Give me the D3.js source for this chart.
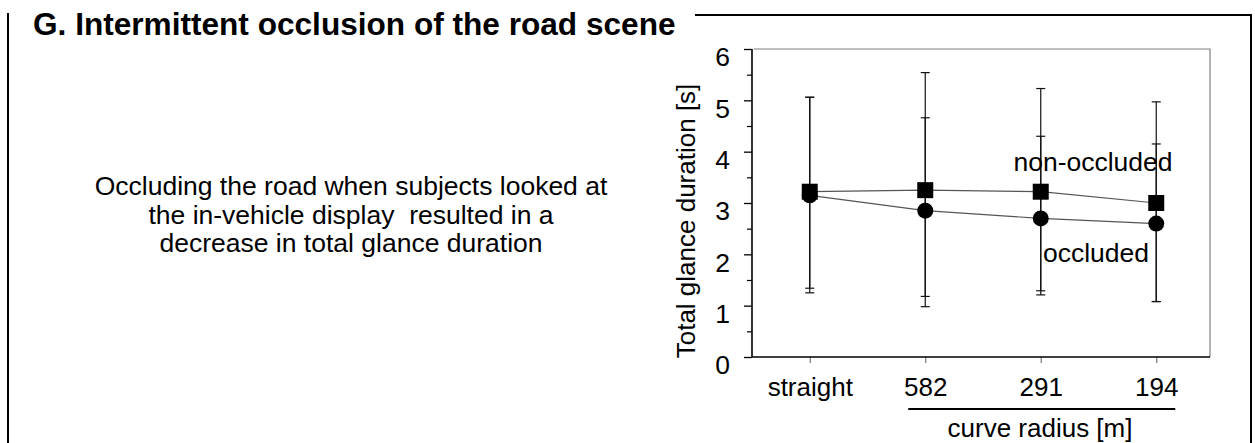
<!DOCTYPE html>
<html lang="en">
<head>
<meta charset="UTF-8">
<title>Intermittent occlusion of the road scene</title>
<script src="https://d3js.org/d3.v7.min.js"></script>
<style>
  body { margin: 0; background: #ffffff; }
  svg { display: block; font-family: "Liberation Sans", Arial, Helvetica, sans-serif; }
</style>
</head>
<body>
<div id="chart"></div>
<script>
// x categories (curve radius in m, plus the straight road)
const categories = ['straight', '582', '291', '194'];
// mean total glance duration [s]
const nonOccludedMean = [3.22, 3.25, 3.22, 3.00];
const occludedMean = [3.15, 2.85, 2.70, 2.60];
// error bar ends [s]
const nonOccludedHigh = [5.06, 5.54, 5.23, 4.97];
const nonOccludedLow = [1.34, 0.98, 1.21, 1.08];
const occludedHigh = [5.06, 4.66, 4.30, 4.15];
const occludedLow = [1.25, 1.18, 1.29, 1.08];
const yTicks = [0, 1, 2, 3, 4, 5, 6];
const yMinorTicks = [0.5, 1.5, 2.5, 3.5, 4.5, 5.5];
const noteLines = [
    'Occluding the road when subjects looked at',
    'the in-vehicle display  resulted in a',
    'decrease in total glance duration'
];

const W = 1255, H = 443;
const plot = {left: 752, right: 1210, top: 49, bottom: 357};

const svg = d3.select('#chart').append('svg')
    .attr('width', W)
    .attr('height', H);

// outer panel frame, open behind the title
svg.append('path')
    .attr('d', `M8,13 V${H} M695,15 H1251 V${H}`)
    .attr('fill', 'none')
    .attr('stroke', '#000')
    .attr('stroke-width', 2);

svg.append('text')
    .attr('x', 33)
    .attr('y', 35)
    .attr('font-size', 31.6)
    .attr('font-weight', 'bold')
    .text('G. Intermittent occlusion of the road scene');

svg.append('g')
    .selectAll('text')
    .data(noteLines)
    .enter().append('text')
    .attr('x', 351)
    .attr('y', (d, i) => 195 + i * 28.5)
    .attr('text-anchor', 'middle')
    .attr('font-size', 26.5)
    .style('white-space', 'pre')
    .text(d => d);

// scales
const x = d3.scalePoint()
    .domain(categories)
    .range([752, 1214])
    .padding(0.5);

const y = d3.scaleLinear()
    .domain([0, 6])
    .range([plot.bottom, plot.top]);

// top and right frame of the plot (grey)
svg.append('path')
    .attr('d', `M${plot.left + 2},${plot.top} H${plot.right} V${plot.bottom}`)
    .attr('fill', 'none')
    .attr('stroke', '#808080')
    .attr('stroke-width', 1.2);

// y axis, major ticks with labels
const yAxis = svg.append('g')
    .attr('transform', `translate(${plot.left},0)`)
    .call(d3.axisLeft(y).tickValues(yTicks).tickFormat(d3.format('d'))
        .tickSize(8).tickSizeOuter(0).tickPadding(14));
yAxis.select('.domain').remove();
yAxis.selectAll('line').attr('stroke', '#000').attr('stroke-width', 1.3);
yAxis.selectAll('text')
    .attr('font-size', 26.5)
    .attr('font-family', '"Liberation Sans", Arial, sans-serif')
    .attr('fill', '#000')
    .attr('dy', '0.64em');

// y axis minor ticks
const yMinor = svg.append('g')
    .attr('transform', `translate(${plot.left},0)`)
    .call(d3.axisLeft(y).tickValues(yMinorTicks).tickSize(5).tickSizeOuter(0).tickFormat(''));
yMinor.select('.domain').remove();
yMinor.selectAll('line').attr('stroke', '#000').attr('stroke-width', 1.2);

// x axis
const xAxis = svg.append('g')
    .attr('transform', `translate(0,${plot.bottom})`)
    .call(d3.axisBottom(x).tickSize(6).tickSizeOuter(0).tickPadding(15));
xAxis.select('.domain').remove();
xAxis.selectAll('line').attr('stroke', '#777').attr('stroke-width', 1.2);
xAxis.selectAll('text')
    .attr('font-size', 26)
    .attr('font-family', '"Liberation Sans", Arial, sans-serif')
    .attr('fill', '#000');

// black axis lines
svg.append('path')
    .attr('d', `M${plot.left},${plot.top} V${plot.bottom} H${plot.right}`)
    .attr('fill', 'none')
    .attr('stroke', '#000')
    .attr('stroke-width', 1.6);

// curve radius bracket
svg.append('line')
    .attr('x1', x('582') - 17)
    .attr('x2', x('194') + 19)
    .attr('y1', 409)
    .attr('y2', 409)
    .attr('stroke', '#000')
    .attr('stroke-width', 2.2);

svg.append('text')
    .attr('x', 1040)
    .attr('y', 437)
    .attr('text-anchor', 'middle')
    .attr('font-size', 26)
    .text('curve radius [m]');

svg.append('text')
    .attr('transform', `translate(695,${y(2.65)}) rotate(-90)`)
    .attr('text-anchor', 'middle')
    .attr('font-size', 26)
    .text('Total glance duration [s]');

// series
const series = [
    {name: 'occluded', mean: occludedMean, low: occludedLow, high: occludedHigh, marker: 'circle'},
    {name: 'non-occluded', mean: nonOccludedMean, low: nonOccludedLow, high: nonOccludedHigh, marker: 'square'}
];

const capW = 4.5;
series.forEach(s => {
    const g = svg.append('g').attr('class', 'errors');
    categories.forEach((c, i) => {
        g.append('line')
            .attr('x1', x(c)).attr('x2', x(c))
            .attr('y1', y(s.low[i])).attr('y2', y(s.high[i]))
            .attr('stroke', '#111').attr('stroke-width', 1.2);
        [s.low[i], s.high[i]].forEach(v => {
            g.append('line')
                .attr('x1', x(c) - capW).attr('x2', x(c) + capW)
                .attr('y1', y(v)).attr('y2', y(v))
                .attr('stroke', '#111').attr('stroke-width', 1.2);
        });
    });
});

const line = d3.line()
    .x((d, i) => x(categories[i]))
    .y(d => y(d));

series.forEach(s => {
    svg.append('path')
        .datum(s.mean)
        .attr('d', line)
        .attr('fill', 'none')
        .attr('stroke', '#555')
        .attr('stroke-width', 1.2);
});

series.forEach(s => {
    const pts = svg.append('g');
    if (s.marker === 'circle') {
        pts.selectAll('circle')
            .data(s.mean)
            .enter().append('circle')
            .attr('cx', (d, i) => x(categories[i]))
            .attr('cy', d => y(d))
            .attr('r', 8)
            .attr('fill', '#000');
    } else {
        pts.selectAll('rect')
            .data(s.mean)
            .enter().append('rect')
            .attr('x', (d, i) => x(categories[i]) - 8)
            .attr('y', d => y(d) - 8)
            .attr('width', 16)
            .attr('height', 16)
            .attr('fill', '#000');
    }
});

// series labels
svg.append('text')
    .attr('x', 1093)
    .attr('y', 171)
    .attr('text-anchor', 'middle')
    .attr('font-size', 26.5)
    .text('non-occluded');

svg.append('text')
    .attr('x', 1096)
    .attr('y', 262)
    .attr('text-anchor', 'middle')
    .attr('font-size', 26.5)
    .text('occluded');
</script>
</body>
</html>
